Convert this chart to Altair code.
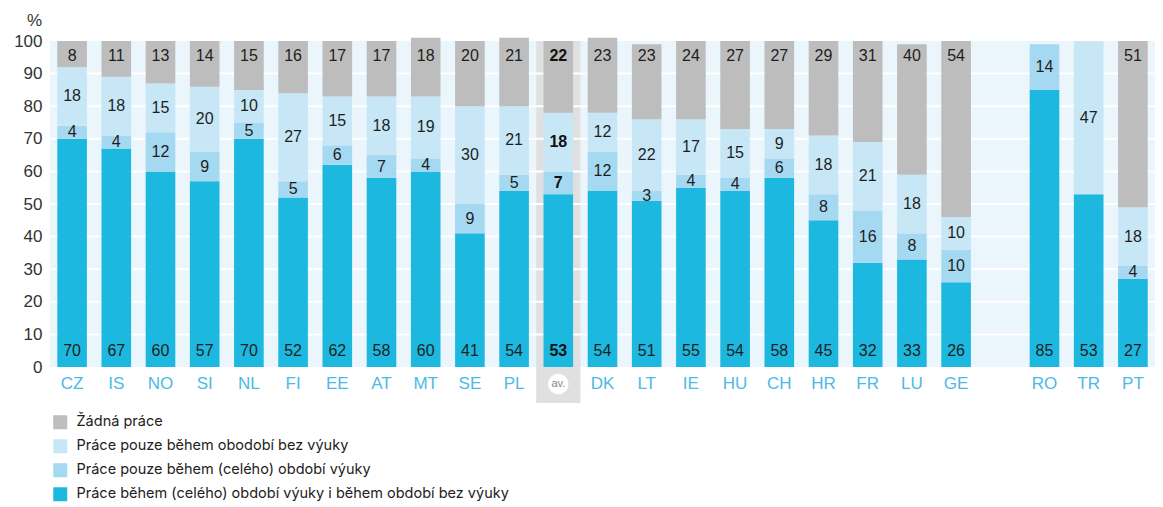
import altair as alt
import pandas as pd

countries = ["CZ", "IS", "NO", "SI", "NL", "FI", "EE", "AT", "MT", "SE", "PL", "av.",
             "DK", "LT", "IE", "HU", "CH", "HR", "FR", "LU", "GE", "RO", "TR", "PT"]
x_domain = countries[:21] + [" "] + countries[21:]

work_both = [70, 67, 60, 57, 70, 52, 62, 58, 60, 41, 54, 53, 54, 51, 55, 54, 58, 45, 32, 33, 26, 85, 53, 27]
work_teach = [4, 4, 12, 9, 5, 5, 6, 7, 4, 9, 5, 7, 12, 3, 4, 4, 6, 8, 16, 8, 10, 14, 0, 4]
work_break = [18, 18, 15, 20, 10, 27, 15, 18, 19, 30, 21, 18, 12, 22, 17, 15, 9, 18, 21, 18, 10, 0, 47, 18]
no_work = [8, 11, 13, 14, 15, 16, 17, 17, 18, 20, 21, 22, 23, 23, 24, 27, 27, 29, 31, 40, 54, 0, 0, 51]

series_names = [
    "Práce během (celého) období výuky i během období bez výuky",
    "Práce pouze během (celého) období výuky",
    "Práce pouze během obodobí bez výuky",
    "Žádná práce",
]
series_colors = ["#1db8e0", "#a5d9f1", "#c7e7f7", "#bdbdbd"]
grid_values = [10, 20, 30, 40, 50, 60, 70, 80, 90]

FONT = "Liberation Sans"
LEGEND_FONT = "Inter"
W, H = 1105, 326

rows = []
for i, c in enumerate(countries):
    base = 0
    for k, vals in enumerate([work_both, work_teach, work_break, no_work]):
        v = vals[i]
        if k == 0:
            lab = 5
        elif k == 3:
            lab = 95.4
        else:
            lab = base + v / 2
        rows.append(dict(country=c, series=series_names[k], k=k, value=v,
                         y0=base, y1=base + v, lab=lab, bold=(c == "av.")))
        base += v
df = pd.DataFrame(rows)
df_lab = df[(df["value"] > 0) & (~df["bold"])]
df_lab_bold = df[(df["value"] > 0) & (df["bold"])]

xscale = alt.Scale(domain=x_domain, paddingInner=0.33, paddingOuter=0.165)
yscale = alt.Scale(domain=[0, 100], nice=False)

X = alt.X("country:N", scale=xscale, sort=x_domain,
          axis=alt.Axis(title=None, labelAngle=0, domain=False, ticks=False,
                        labelPadding=8, labelFontSize=17, labelColor="#4cb9e6",
                        labelFont=FONT,
                        labelExpr="datum.value == 'av.' ? '' : datum.value"))
Y_axis = alt.Axis(title=None, values=list(range(0, 101, 10)), grid=False, domain=False,
                  ticks=False, labelPadding=8, labelFontSize=17, labelColor="#333333",
                  labelFont=FONT)

av_df = pd.DataFrame({"country": ["av."]})
grid_df = pd.DataFrame({"v": grid_values})

av_col = alt.Chart(av_df).mark_bar(color="#e0e0e0", width=alt.RelativeBandSize(1.493)).encode(
    x=X, y=alt.value(0), y2=alt.value(H + 36))

grid = alt.Chart(grid_df).mark_rule(color="white", strokeWidth=2).encode(
    y=alt.Y("v:Q", scale=yscale, axis=Y_axis), x=alt.value(0), x2=alt.value(W))

bars = alt.Chart(df).mark_bar().encode(
    x=X,
    y=alt.Y("y0:Q", scale=yscale, axis=Y_axis),
    y2="y1:Q",
    color=alt.Color("series:N",
                    scale=alt.Scale(domain=series_names[::-1], range=series_colors[::-1]),
                    legend=alt.Legend(title=None, orient="none", legendX=3, legendY=374,
                                      direction="vertical", symbolType="square",
                                      symbolSize=196, symbolStrokeWidth=0,
                                      labelFontSize=14.5, labelColor="#222222",
                                      labelFont=LEGEND_FONT, rowPadding=8, labelOffset=9,
                                      padding=0, labelLimit=700)),
)

labels = alt.Chart(df_lab).mark_text(fontSize=16, color="#1e1e1e", baseline="middle",
                                     font=FONT).encode(
    x=X,
    y=alt.Y("lab:Q", scale=yscale, axis=Y_axis),
    text="value:Q",
)
labels_bold = alt.Chart(df_lab_bold).mark_text(fontSize=16, color="#111111", baseline="middle",
                                               font=FONT, fontWeight="bold").encode(
    x=X,
    y=alt.Y("lab:Q", scale=yscale, axis=Y_axis),
    text="value:Q",
)

av_circle = alt.Chart(av_df).mark_circle(color="white", opacity=1, size=420).encode(
    x=X, y=alt.value(H + 17))
av_text = alt.Chart(av_df).mark_text(text="av.", color="#888888", fontSize=11,
                                     font=FONT, baseline="middle").encode(
    x=X, y=alt.value(H + 17))

pct = alt.Chart(av_df).mark_text(text="%", color="#333333", fontSize=17, font=FONT,
                                 baseline="middle", align="right").encode(
    x=alt.value(-8), y=alt.value(-20))

chart = alt.layer(av_col, grid, bars, labels, labels_bold, av_circle, av_text, pct).properties(
    width=W, height=H,
    autosize=alt.AutoSizeParams(type="none"),
    padding={"left": 42, "top": 33, "right": 0, "bottom": 140},
).configure_view(fill="#eaf5fc", stroke=None)

chart.save("out.html", embed_options={"renderer": "svg", "actions": False})
